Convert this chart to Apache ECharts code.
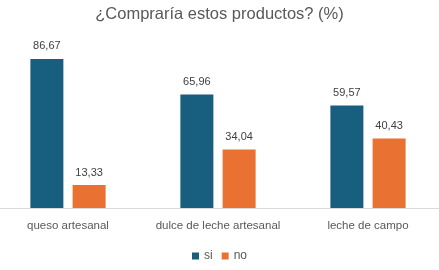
<!DOCTYPE html>
<html lang="es">
<head>
    <meta charset="UTF-8">
    <title>¿Compraría estos productos?</title>
    <script src="https://cdn.jsdelivr.net/npm/echarts@6/dist/echarts.min.js"></script>
    <style>
        html, body { margin: 0; padding: 0; background: #fff; }
        #chart { width: 439px; height: 270px; }
    </style>
</head>
<body>
    <div id="chart"></div>
    <script>
        // datos
        const categories = ['queso artesanal', 'dulce de leche artesanal', 'leche de campo'];
        const siValues = [86.67, 65.96, 59.57];
        const noValues = [13.33, 34.04, 40.43];

        const chart = echarts.init(document.getElementById('chart'));
        const fmt = p => p.value.toFixed(2).replace('.', ',');
        const textColor = '#595959';

        chart.setOption({
            animation: false,
            title: {
                text: '¿Compraría estos productos? (%)',
                left: 'center',
                top: 1,
                textStyle: {
                    fontFamily: 'Liberation Sans',
                    fontSize: 16.5,
                    fontWeight: 'normal',
                    color: textColor
                }
            },
            legend: {
                data: ['si', 'no'],
                bottom: 3,
                itemWidth: 7,
                itemHeight: 7,
                itemGap: 9,
                icon: 'rect',
                textStyle: { fontFamily: 'Liberation Sans', fontSize: 12, color: textColor }
            },
            grid: { left: -7, right: -4, top: 36, bottom: 62, outerBoundsMode: 'none', containLabel: false },
            xAxis: {
                type: 'category',
                data: categories,
                axisLine: { lineStyle: { color: '#d9d9d9' } },
                axisTick: { show: false },
                axisLabel: {
                    interval: 0,
                    margin: 12,
                    fontFamily: 'Liberation Sans',
                    fontSize: 11.5,
                    color: textColor
                }
            },
            yAxis: {
                type: 'value',
                min: 0,
                max: 100,
                show: false,
                splitLine: { show: false }
            },
            series: [
                {
                    name: 'si',
                    type: 'bar',
                    data: siValues,
                    barWidth: 33,
                    barGap: '28%',
                    itemStyle: { color: '#175e7f' },
                    label: { show: true, position: 'top', distance: 7, formatter: fmt,
                        fontFamily: 'Liberation Sans', fontSize: 11, color: '#404040' }
                },
                {
                    name: 'no',
                    type: 'bar',
                    data: noValues,
                    barWidth: 33,
                    itemStyle: { color: '#e97132' },
                    label: { show: true, position: 'top', distance: 7, formatter: fmt,
                        fontFamily: 'Liberation Sans', fontSize: 11, color: '#404040' }
                }
            ]
        });
    </script>
</body>
</html>
